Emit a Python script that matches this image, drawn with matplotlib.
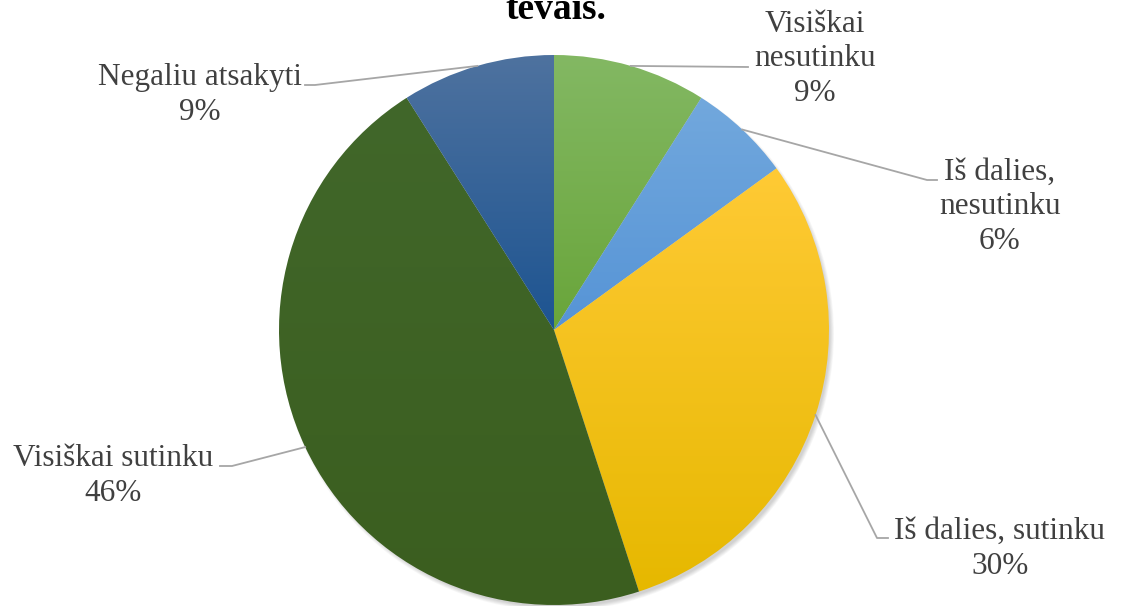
import numpy as np
import matplotlib
matplotlib.use('Agg')
import matplotlib.pyplot as plt
from matplotlib.colors import LinearSegmentedColormap
from matplotlib.patches import Circle

# ============================================================
# DATA
# ============================================================
kategorijos = ["Visiškai\nnesutinku", "Iš dalies,\nnesutinku", "Iš dalies, sutinku",
               "Visiškai sutinku", "Negaliu atsakyti"]
procentai = [9, 6, 30, 46, 9]
etiketes = ["9%", "6%", "30%", "46%", "9%"]

# gradient (top, bottom) for each slice
spalvos = [("#83b863", "#69a53a"),
           ("#72a8dd", "#5694d6"),
           ("#ffca35", "#e6b800"),
           ("#41672a", "#3b5e1f"),
           ("#4e729f", "#1d5491")]

# layout in pixels (y from top)
W, H = 1121, 606
CX, CY, R = 554, 330, 275
label_pos = [(815, 59), (1000, 207), (1000, 549), (113, 476), (200, 95)]
leader_end = [[(748, 67)],
              [(927, 180), (937, 180)],
              [(877, 538), (888, 538)],
              [(232, 466), (220, 466)],
              [(315, 85), (305, 85)]]

plt.rcParams['font.family'] = ['Liberation Serif', 'DejaVu Serif']

fig = plt.figure(figsize=(W / 100, H / 100), dpi=100)
ax = fig.add_axes([0, 0, 1, 1])

# soft shadow (bottom-right)
for k in range(6):
    ax.add_patch(Circle((CX + 3, H - CY - 4), R - 2 + k * 0.8,
                        color='black', alpha=0.03, lw=0, zorder=1))

wedges, _ = ax.pie(procentai, startangle=90, counterclock=False,
                   center=(CX, H - CY), radius=R, frame=True,
                   wedgeprops=dict(linewidth=0, facecolor='none'))

grad = np.linspace(0, 1, 256).reshape(-1, 1)
for w, (c_top, c_bot) in zip(wedges, spalvos):
    ext = w.get_path().get_extents()
    cmap = LinearSegmentedColormap.from_list('g', [c_bot, c_top])
    im = ax.imshow(grad, cmap=cmap, origin='lower', aspect='auto',
                   extent=[ext.x0, ext.x1, ext.y0, ext.y1], zorder=2)
    im.set_clip_path(w)
    w.set_zorder(3)

ax.set_xlim(0, W)
ax.set_ylim(0, H)
ax.set_aspect('equal')
ax.axis('off')

# leader lines + labels
for w, pts, (lx, ly), kat, et in zip(wedges, leader_end, label_pos, kategorijos, etiketes):
    mid = np.deg2rad((w.theta1 + w.theta2) / 2)
    sx = CX + R * np.cos(mid)
    sy = (H - CY) + R * np.sin(mid)
    xs = [sx] + [p[0] for p in pts]
    ys = [sy] + [H - p[1] for p in pts]
    ax.plot(xs, ys, color='#a6a6a6', lw=1.3, zorder=4)
    ax.text(lx, H - ly, kat + "\n" + et, ha='center', va='center',
            fontsize=22.5, color='#404040', linespacing=1.25, zorder=5)

ax.text(556, H - 19, "tėvais.", ha='center', va='baseline',
        fontsize=27, fontweight='bold', color='black')

fig.savefig('out.png', dpi=100)
